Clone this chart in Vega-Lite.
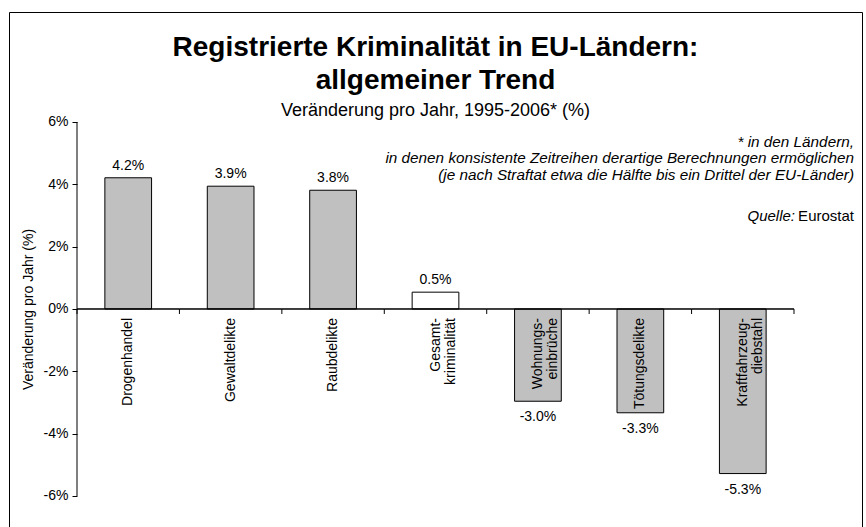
{
  "$schema": "https://vega.github.io/schema/vega-lite/v6.json",
  "width": 853,
  "height": 515,
  "autosize": {"type": "none"},
  "padding": {"left": 9, "top": 12, "right": 4, "bottom": 0},
  "background": "white",
  "title": {
    "text": ["Registrierte Kriminalität in EU-Ländern:", "allgemeiner Trend"],
    "subtitle": "Veränderung pro Jahr, 1995-2006* (%)",
    "anchor": "middle",
    "frame": "group",
    "offset": -108,
    "font": "Liberation Sans",
    "fontSize": 28,
    "fontWeight": "bold",
    "lineHeight": 33,
    "color": "#000",
    "subtitleFont": "Liberation Sans",
    "subtitleFontSize": 18,
    "subtitleColor": "#000",
    "subtitlePadding": 7
  },
  "data": {
    "values": [
      {"kat": "Drogenhandel", "label": "Drogenhandel", "wert": 0.0421},
      {"kat": "Gewaltdelikte", "label": "Gewaltdelikte", "wert": 0.0394},
      {"kat": "Raubdelikte", "label": "Raubdelikte", "wert": 0.0381},
      {"kat": "Gesamtkriminalität", "label": "Gesamt-\nkriminalität", "wert": 0.0054},
      {"kat": "Wohnungseinbrüche", "label": "Wohnungs-\neinbrüche", "wert": -0.0296},
      {"kat": "Tötungsdelikte", "label": "Tötungsdelikte", "wert": -0.0333},
      {"kat": "Kraftfahrzeugdiebstahl", "label": "Kraftfahrzeug-\ndiebstahl", "wert": -0.0528}
    ]
  },
  "encoding": {
    "x": {
      "field": "kat",
      "type": "nominal",
      "scale": {
        "domain": ["Drogenhandel", "Gewaltdelikte", "Raubdelikte", "Gesamtkriminalität", "Wohnungseinbrüche", "Tötungsdelikte", "Kraftfahrzeugdiebstahl"],
        "paddingInner": 0,
        "paddingOuter": 0.6639
      },
      "axis": null
    }
  },
  "layer": [
    {
      "mark": {"type": "bar", "width": {"band": 0.456}, "stroke": "#000", "strokeWidth": 1},
      "encoding": {
        "y": {
          "field": "wert",
          "type": "quantitative",
          "scale": {"domain": [-0.06995, 0.09529], "nice": false, "zero": false},
          "axis": {
            "values": [-0.06, -0.04, -0.02, 0, 0.02, 0.04, 0.06],
            "format": ".0%",
            "offset": -68,
            "domain": false,
            "grid": false,
            "ticks": true,
            "tickSize": 5,
            "tickColor": "#000",
            "labelFont": "Liberation Sans",
            "labelFontSize": 14,
            "labelColor": "#000",
            "labelPadding": 4,
            "title": "Veränderung pro Jahr (%)",
            "titleFont": "Liberation Sans",
            "titleFontSize": 14,
            "titleFontWeight": "normal",
            "titleColor": "#000",
            "titleX": -42,
            "titleY": 297,
            "titleAngle": 270,
            "titleBaseline": "bottom",
            "titleAlign": "center"
          }
        },
        "fill": {
          "condition": {"test": "datum.kat === 'Gesamtkriminalität'", "value": "#ffffff"},
          "value": "#c0c0c0"
        }
      }
    },
    {
      "mark": {"type": "bar", "width": {"band": 1}, "fill": "transparent", "stroke": "#000", "strokeWidth": 1},
      "encoding": {
        "y": {"datum": 0, "type": "quantitative"},
        "y2": {"datum": 0}
      }
    },
    {
      "mark": {"type": "rule", "color": "#000", "strokeWidth": 1},
      "encoding": {
        "x": {"field": "kat", "type": "nominal", "bandPosition": 0},
        "y": {"datum": 0, "type": "quantitative"},
        "y2": {"datum": -0.0016}
      }
    },
    {
      "transform": [{"filter": "datum.kat === 'Kraftfahrzeugdiebstahl'"}],
      "mark": {"type": "rule", "color": "#000", "strokeWidth": 1},
      "encoding": {
        "x": {"field": "kat", "type": "nominal", "bandPosition": 1},
        "y": {"datum": 0, "type": "quantitative"},
        "y2": {"datum": -0.0016}
      }
    },
    {
      "transform": [{"filter": "datum.kat === 'Drogenhandel'"}],
      "mark": {"type": "rule", "color": "#000", "strokeWidth": 1},
      "encoding": {
        "x": {"field": "kat", "type": "nominal", "bandPosition": 0},
        "y": {"datum": -0.06, "type": "quantitative"},
        "y2": {"datum": 0.06}
      }
    },
    {
      "transform": [{"filter": "datum.wert > 0"}],
      "mark": {"type": "text", "font": "Liberation Sans", "fontSize": 14, "color": "#000", "baseline": "alphabetic", "dy": -8},
      "encoding": {
        "y": {"field": "wert", "type": "quantitative"},
        "text": {"field": "wert", "type": "quantitative", "format": ".1%"}
      }
    },
    {
      "transform": [{"filter": "datum.wert < 0"}],
      "mark": {"type": "text", "font": "Liberation Sans", "fontSize": 14, "color": "#000", "baseline": "top", "dy": 9},
      "encoding": {
        "y": {"field": "wert", "type": "quantitative"},
        "text": {"field": "wert", "type": "quantitative", "format": ".1%"}
      }
    },
    {
      "mark": {"type": "text", "font": "Liberation Sans", "fontSize": 14, "color": "#000", "angle": 270, "align": "right", "baseline": "middle", "dx": -9, "lineBreak": "\n", "lineHeight": 15},
      "encoding": {
        "y": {"datum": 0, "type": "quantitative"},
        "text": {"field": "label", "type": "nominal"}
      }
    },
    {
      "data": {"values": [{"kat": "Kraftfahrzeugdiebstahl", "pos": 0.052, "t": "* in den Ländern,\nin denen konsistente Zeitreihen derartige Berechnungen ermöglichen\n(je nach Straftat etwa die Hälfte bis ein Drittel der EU-Länder)"}]},
      "mark": {"type": "text", "font": "Liberation Sans", "fontSize": 15.3, "fontStyle": "italic", "color": "#000", "align": "right", "baseline": "alphabetic", "dx": 60, "lineBreak": "\n", "lineHeight": 16.5},
      "encoding": {
        "x": {"field": "kat", "type": "nominal", "bandPosition": 1},
        "y": {"field": "pos", "type": "quantitative"},
        "text": {"field": "t", "type": "nominal"}
      }
    },
    {
      "data": {"values": [{"kat": "Kraftfahrzeugdiebstahl", "pos": 0.0282, "t": "Quelle:"}]},
      "mark": {"type": "text", "font": "Liberation Sans", "fontSize": 15, "fontStyle": "italic", "color": "#000", "align": "right", "baseline": "alphabetic", "dx": 1},
      "encoding": {
        "x": {"field": "kat", "type": "nominal", "bandPosition": 1},
        "y": {"field": "pos", "type": "quantitative"},
        "text": {"field": "t", "type": "nominal"}
      }
    },
    {
      "data": {"values": [{"kat": "Kraftfahrzeugdiebstahl", "pos": 0.0282, "t": "Eurostat"}]},
      "mark": {"type": "text", "font": "Liberation Sans", "fontSize": 15, "color": "#000", "align": "right", "baseline": "alphabetic", "dx": 60},
      "encoding": {
        "x": {"field": "kat", "type": "nominal", "bandPosition": 1},
        "y": {"field": "pos", "type": "quantitative"},
        "text": {"field": "t", "type": "nominal"}
      }
    }
  ],
  "config": {
    "view": {"stroke": "#000", "strokeWidth": 1},
    "locale": {"number": {"decimal": ".", "thousands": ",", "grouping": [3], "currency": ["$", ""], "minus": "-"}},
    "font": "Liberation Sans"
  }
}
